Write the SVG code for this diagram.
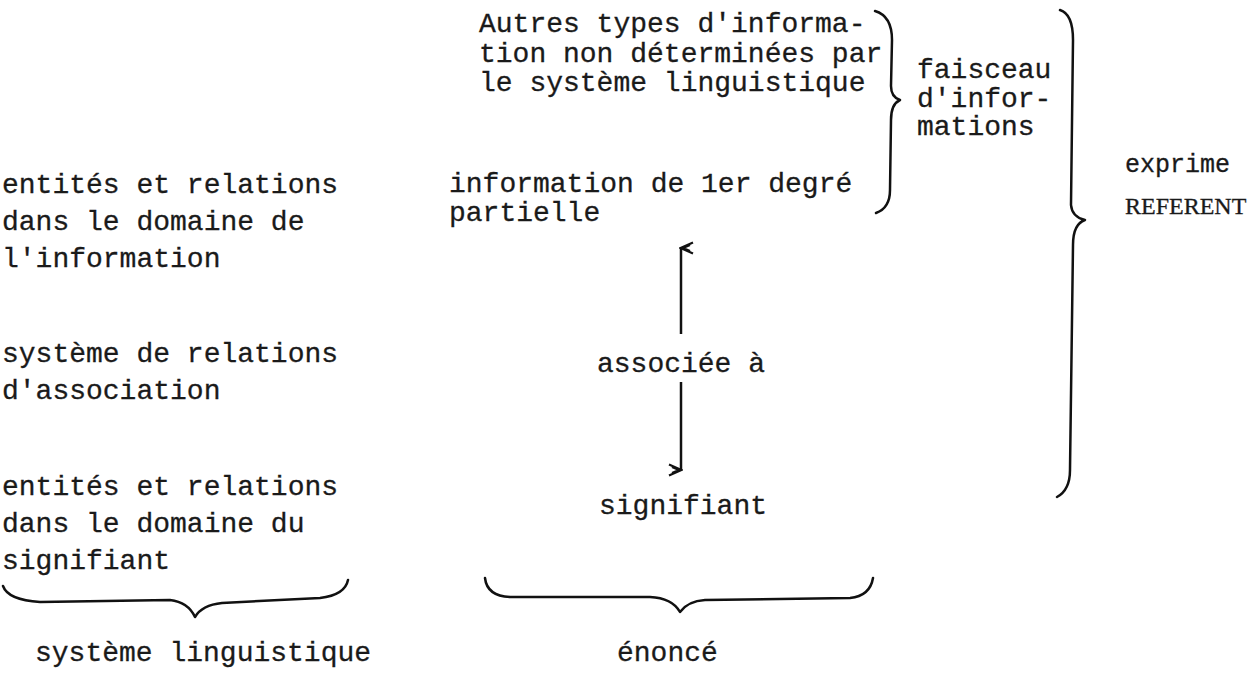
<svg xmlns="http://www.w3.org/2000/svg" width="1258" height="673" viewBox="0 0 1258 673">
<style>
text{font-family:"Liberation Mono","Courier New",monospace;font-size:28px;fill:#1a1a1a;stroke:#1a1a1a;stroke-width:0.3}
.sm{font-size:25px}
.ser{font-family:"Liberation Serif","Times New Roman",serif;font-size:24px}
.br{fill:none;stroke:#111;stroke-width:2.5;stroke-linecap:round;stroke-linejoin:round}
.ar{fill:none;stroke:#111;stroke-width:2.5}
</style>
<defs>
<marker id="ah" markerWidth="14" markerHeight="16" refX="7" refY="2" orient="auto-start-reverse" markerUnits="userSpaceOnUse" viewBox="0 0 14 16">
<path d="M1.5,14 L7,1.5 L12.5,14 M4,11 L7,4 L10,11" fill="none" stroke="#111" stroke-width="2.2"/>
</marker>
</defs>
<rect width="1258" height="673" fill="#fff"/>
<g id="left-info"><text x="2" y="193">entités et relations</text><text x="2" y="230">dans le domaine de</text><text x="2" y="267">l'information</text></g>
<g id="left-assoc"><text x="2" y="362">système de relations</text><text x="2" y="399">d'association</text></g>
<g id="left-signif"><text x="2" y="495">entités et relations</text><text x="2" y="532">dans le domaine du</text><text x="2" y="569">signifiant</text></g>
<g id="autres"><text x="479" y="32">Autres types d'informa-</text><text x="479" y="62">tion non déterminées par</text><text x="479" y="91">le système linguistique</text></g>
<g id="info1"><text x="449" y="192">information de 1er degré</text><text x="449" y="221">partielle</text></g>
<g id="associee"><text x="597" y="372">associée à</text></g>
<g id="signifiant"><text x="599" y="514">signifiant</text></g>
<g id="faisceau"><text x="917" y="78">faisceau</text><text x="917" y="107">d'infor-</text><text x="917" y="135">mations</text></g>
<g id="exprime"><text class="sm" x="1125" y="172">exprime</text><text class="ser" x="1125" y="214">REFERENT</text></g>
<g id="syslin"><text x="35" y="661">système linguistique</text></g>
<g id="enonce"><text x="617" y="661">énoncé</text></g>
<g id="connectors">
<path class="ar" d="M681,334 L681,248" marker-end="url(#ah)"/>
<path class="ar" d="M681,382 L681,470" marker-end="url(#ah)"/>
<path class="br" d="M875,11 Q892,16 892,40 L891,86 Q891,97 900,100 Q891,104 891,120 L890,190 Q890,208 876,213"/>
<path class="br" d="M1060,10 Q1073,14 1073,40 L1071,205 Q1072,217 1085,220 Q1073,224 1073,245 L1070,470 Q1070,490 1057,497"/>
<path class="br" d="M3,586 Q8,600 40,602 L170,600 Q188,602 195,617 Q202,605 222,603 L320,598 Q345,595 348,580"/>
<path class="br" d="M485,578 Q487,596 510,597 L650,597 Q672,598 680,612 Q688,601 705,600 L850,598 Q870,596 873,578"/>
</g>
</svg>
